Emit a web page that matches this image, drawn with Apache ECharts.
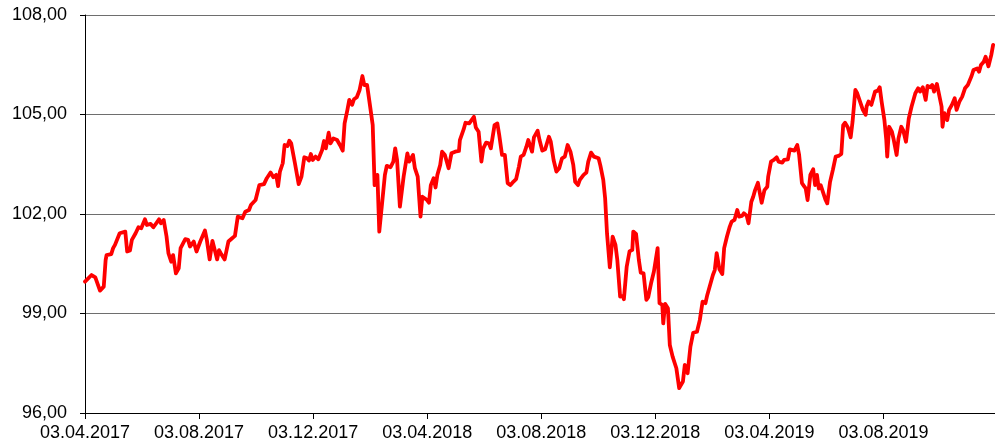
<!DOCTYPE html>
<html>
<head>
<meta charset="utf-8">
<script src="https://cdn.jsdelivr.net/npm/echarts@6/dist/echarts.min.js"></script>
<style>
html,body{margin:0;padding:0;background:#fff;}
#chart{width:995px;height:446px;}
</style>
</head>
<body>
<div id="chart"></div>
<script>
var startDate = '2017-04-03';
var endDate = '2019-11-30';
var xTickLabels = ['03.04.2017','03.08.2017','03.12.2017','03.04.2018','03.08.2018','03.12.2018','03.04.2019','03.08.2019'];
var yTickLabels = ['96,00','99,00','102,00','105,00','108,00'];

var dates = [
'2017-04-03','2017-04-10','2017-04-14','2017-04-16','2017-04-19','2017-04-23','2017-04-25','2017-04-26','2017-05-01','2017-05-03',
'2017-05-05','2017-05-10','2017-05-12','2017-05-16','2017-05-18','2017-05-21','2017-05-23','2017-05-27','2017-05-30','2017-06-02',
'2017-06-06','2017-06-08','2017-06-12','2017-06-15','2017-06-17','2017-06-21','2017-06-23','2017-06-26','2017-06-29','2017-07-01',
'2017-07-04','2017-07-06','2017-07-09','2017-07-12','2017-07-14','2017-07-19','2017-07-22','2017-07-24','2017-07-28','2017-07-31',
'2017-08-04','2017-08-09','2017-08-11','2017-08-14','2017-08-17','2017-08-22','2017-08-24','2017-08-26','2017-08-30','2017-09-03',
'2017-09-07','2017-09-10','2017-09-13','2017-09-18','2017-09-21','2017-09-25','2017-09-27','2017-10-02','2017-10-06','2017-10-11',
'2017-10-14','2017-10-18','2017-10-21','2017-10-24','2017-10-26','2017-10-28','2017-10-31','2017-11-02','2017-11-05','2017-11-07',
'2017-11-09','2017-11-11','2017-11-13','2017-11-17','2017-11-20','2017-11-23','2017-11-26','2017-11-28','2017-11-30','2017-12-02',
'2017-12-05','2017-12-08','2017-12-12','2017-12-14','2017-12-16','2017-12-19','2017-12-21','2017-12-24','2017-12-28','2017-12-31',
'2018-01-03','2018-01-05','2018-01-08','2018-01-10','2018-01-13','2018-01-15','2018-01-18','2018-01-21','2018-01-24','2018-01-26',
'2018-01-29','2018-02-01','2018-02-04','2018-02-06','2018-02-09','2018-02-11','2018-02-14','2018-02-17','2018-02-19','2018-02-23',
'2018-02-26','2018-02-28','2018-03-02','2018-03-05','2018-03-09','2018-03-13','2018-03-15','2018-03-19','2018-03-21','2018-03-24',
'2018-03-27','2018-03-29','2018-04-03','2018-04-05','2018-04-07','2018-04-10','2018-04-12','2018-04-14','2018-04-17','2018-04-19',
'2018-04-22','2018-04-26','2018-04-29','2018-05-03','2018-05-07','2018-05-08','2018-05-12','2018-05-14','2018-05-18','2018-05-20',
'2018-05-23','2018-05-25','2018-05-28','2018-05-31','2018-06-02','2018-06-05','2018-06-08','2018-06-10','2018-06-14','2018-06-17',
'2018-06-19','2018-06-22','2018-06-25','2018-06-28','2018-07-01','2018-07-04','2018-07-07','2018-07-10','2018-07-12','2018-07-15',
'2018-07-18','2018-07-20','2018-07-24','2018-07-26','2018-07-30','2018-08-01','2018-08-04','2018-08-07','2018-08-11','2018-08-13',
'2018-08-16','2018-08-19','2018-08-22','2018-08-25','2018-08-28','2018-08-31','2018-09-03','2018-09-06','2018-09-08','2018-09-11',
'2018-09-13','2018-09-17','2018-09-20','2018-09-22','2018-09-25','2018-09-28','2018-09-30','2018-10-03','2018-10-05','2018-10-08',
'2018-10-10','2018-10-12','2018-10-15','2018-10-18','2018-10-21','2018-10-23','2018-10-26','2018-10-29','2018-10-30','2018-11-02',
'2018-11-05','2018-11-08','2018-11-09','2018-11-12','2018-11-15','2018-11-17','2018-11-20','2018-11-23','2018-11-25','2018-11-28',
'2018-12-01','2018-12-02','2018-12-05','2018-12-07','2018-12-10','2018-12-11','2018-12-13','2018-12-16','2018-12-18','2018-12-21',
'2018-12-25','2018-12-28','2019-01-01','2019-01-03','2019-01-06','2019-01-09','2019-01-12','2019-01-16','2019-01-19','2019-01-22',
'2019-01-25','2019-01-27','2019-01-29','2019-02-02','2019-02-04','2019-02-06','2019-02-09','2019-02-12','2019-02-14','2019-02-17',
'2019-02-20','2019-02-22','2019-02-25','2019-02-28','2019-03-02','2019-03-05','2019-03-07','2019-03-10','2019-03-12','2019-03-15',
'2019-03-17','2019-03-19','2019-03-22','2019-03-24','2019-03-26','2019-03-29','2019-04-01','2019-04-02','2019-04-05','2019-04-08',
'2019-04-11','2019-04-13','2019-04-17','2019-04-19','2019-04-23','2019-04-25','2019-04-27','2019-04-30','2019-05-03','2019-05-05',
'2019-05-08','2019-05-10','2019-05-12','2019-05-14','2019-05-17','2019-05-20','2019-05-22','2019-05-24','2019-05-26','2019-05-28',
'2019-06-02','2019-06-04','2019-06-07','2019-06-10','2019-06-13','2019-06-16','2019-06-19','2019-06-21','2019-06-23','2019-06-26',
'2019-06-29','2019-07-01','2019-07-04','2019-07-06','2019-07-09','2019-07-12','2019-07-15','2019-07-16','2019-07-18','2019-07-21',
'2019-07-23','2019-07-25','2019-07-28','2019-07-30','2019-08-01','2019-08-04','2019-08-06','2019-08-07','2019-08-09','2019-08-12',
'2019-08-14','2019-08-17','2019-08-19','2019-08-22','2019-08-24','2019-08-27','2019-08-30','2019-09-02','2019-09-06','2019-09-09',
'2019-09-11','2019-09-14','2019-09-17','2019-09-19','2019-09-22','2019-09-24','2019-09-26','2019-09-29','2019-10-01','2019-10-04',
'2019-10-05','2019-10-07','2019-10-10','2019-10-12','2019-10-15','2019-10-18','2019-10-20','2019-10-23','2019-10-26','2019-10-29',
'2019-11-01','2019-11-05','2019-11-07','2019-11-11','2019-11-13','2019-11-15','2019-11-18','2019-11-20','2019-11-23','2019-11-26',
'2019-11-28'
];

var values = [
99.96,100.16,100.09,100.03,99.69,99.81,100.61,100.76,100.79,100.97,
101.07,101.42,101.42,101.47,100.87,100.90,101.22,101.42,101.60,101.57,
101.84,101.67,101.70,101.60,101.64,101.84,101.72,101.82,101.32,100.82,
100.56,100.76,100.21,100.36,100.97,101.24,101.22,101.02,101.17,100.87,
101.17,101.50,101.22,100.63,101.19,100.63,100.91,100.81,100.63,101.17,
101.27,101.34,101.92,101.87,102.07,102.12,102.27,102.42,102.87,102.90,
103.08,103.25,103.11,103.18,102.84,103.28,103.53,104.08,104.05,104.21,
104.13,104.08,103.53,102.90,103.13,103.71,103.68,103.61,103.81,103.63,
103.73,103.65,103.93,104.20,103.98,104.45,104.13,104.28,104.23,104.08,
103.91,104.73,105.14,105.44,105.29,105.46,105.52,105.74,106.16,105.89,
105.89,105.29,104.68,102.87,103.18,101.47,102.32,103.18,103.45,103.41,
103.58,103.98,103.63,102.22,103.13,103.83,103.58,103.78,103.38,103.13,
101.92,102.52,102.42,102.34,102.87,103.08,102.80,103.18,103.48,103.88,
103.78,103.38,103.83,103.88,103.90,104.23,104.55,104.75,104.73,104.78,
104.93,104.61,104.48,103.58,103.98,104.15,104.13,103.98,104.68,104.73,
104.38,103.78,103.78,102.93,102.87,102.97,103.05,103.43,103.73,103.78,
104.03,104.23,103.88,104.31,104.51,104.23,103.91,103.95,104.33,104.18,
103.63,103.28,103.38,103.68,103.73,104.08,103.88,103.48,102.97,102.87,
103.03,103.18,103.25,103.58,103.85,103.73,103.78,103.68,103.45,103.03,
102.47,101.42,100.39,101.32,101.07,100.61,99.51,99.53,99.43,100.41,
100.87,100.92,101.47,101.40,100.61,100.23,100.21,99.41,99.49,99.91,
100.26,100.31,100.97,99.31,99.26,98.70,99.29,99.16,98.05,97.70,
97.35,96.75,96.95,97.45,97.20,98.00,98.42,98.45,98.80,99.36,
99.31,99.56,99.61,100.16,100.31,100.82,100.33,100.19,100.97,101.32,
101.62,101.77,101.82,102.12,101.92,101.94,102.02,101.95,101.72,102.37,
102.52,102.72,102.94,102.92,102.34,102.72,102.82,103.13,103.58,103.63,
103.71,103.58,103.55,103.63,103.65,103.95,103.98,103.91,104.08,103.78,
102.93,102.85,102.77,102.42,103.18,103.35,102.87,103.18,102.77,102.87,
102.44,102.32,102.97,103.33,103.73,103.75,103.81,104.68,104.75,104.61,
104.31,104.78,105.74,105.64,105.39,105.14,104.99,105.24,105.39,105.29,
105.34,105.69,105.72,105.82,105.39,104.83,104.23,103.73,104.63,104.48,
104.23,103.78,104.28,104.63,104.53,104.18,104.88,105.24,105.64,105.79,
105.69,105.82,105.44,105.86,105.82,105.89,105.69,105.92,105.89,105.24,
104.63,105.04,104.83,105.14,105.29,105.49,105.14,105.39,105.54,105.79,
105.89,106.16,106.34,106.39,106.29,106.49,106.59,106.74,106.45,106.79,
107.10
];

var DAY = 86400000;
function dayOffset(d) { return (Date.parse(d) - Date.parse(startDate)) / DAY; }
var xInterval = dayOffset('2019-08-03') / (xTickLabels.length - 1);
var seriesData = dates.map(function (d, i) { return [dayOffset(d), values[i]]; });

var chart = echarts.init(document.getElementById('chart'), null, { renderer: 'canvas' });
var font = '"Liberation Sans", Arial, sans-serif';
chart.setOption({
  animation: false,
  backgroundColor: '#ffffff',
  grid: { left: 85, right: 0, top: 15, bottom: 33, containLabel: false },
  xAxis: {
    type: 'value',
    min: 0,
    max: dayOffset(endDate),
    interval: xInterval,
    axisLine: { show: true, lineStyle: { color: '#000000', width: 1 } },
    axisTick: { show: true, length: 6, lineStyle: { color: '#000000', width: 1 } },
    splitLine: { show: false },
    axisLabel: {
      show: true,
      margin: 11,
      color: '#000000',
      fontSize: 18,
      fontFamily: font,
      showMaxLabel: false,
      formatter: function (v) {
        var i = Math.round(v / xInterval);
        if (Math.abs(v - i * xInterval) > 0.01) return '';
        return xTickLabels[i] || '';
      }
    }
  },
  yAxis: {
    type: 'value',
    min: 96,
    max: 108,
    interval: 3,
    axisLine: { show: true, lineStyle: { color: '#000000', width: 1 } },
    axisTick: { show: true, length: 5, lineStyle: { color: '#000000', width: 1 } },
    splitLine: { show: true, lineStyle: { color: '#6e6e6e', width: 1 } },
    axisLabel: {
      margin: 18,
      color: '#000000',
      fontSize: 18,
      fontFamily: font,
      formatter: function (v) {
        var i = Math.round((v - 96) / 3);
        return yTickLabels[i] || '';
      }
    }
  },
  series: [{
    type: 'line',
    data: seriesData,
    showSymbol: false,
    symbol: 'none',
    lineStyle: { color: '#ff0000', width: 3.8, join: 'round', cap: 'round' },
    itemStyle: { color: '#ff0000' }
  }]
});
</script>
</body>
</html>
